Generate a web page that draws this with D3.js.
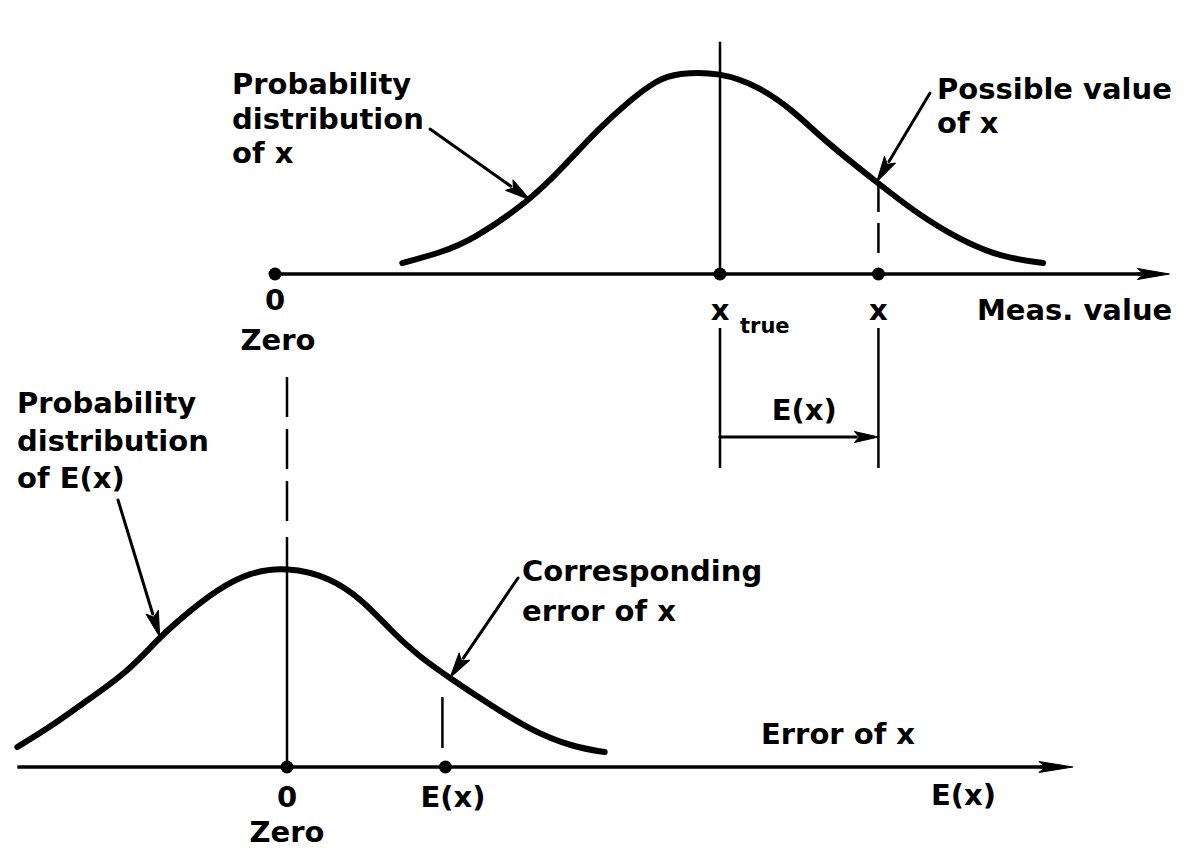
<!DOCTYPE html>
<html><head><meta charset="utf-8">
<script src="https://cdn.jsdelivr.net/npm/d3@7"></script>
<style>
html,body{margin:0;background:#fff}
svg{display:block}
text{font-family:"DejaVu Sans",sans-serif;font-weight:bold;fill:#000}
</style>
</head><body>
<svg id="c" width="1200" height="851"></svg>
<script>
// ---- data ----
// distribution of the measured value x (units of measured value, relative density)
const measCurveX = [1.43,1.85,2.22,2.87,3.24,3.62,3.99,4.29,4.52,5.0,5.45,5.82,6.2,6.76,7.21,7.7,8.15,8.63];
const measCurveP = [0.054,0.104,0.168,0.366,0.53,0.713,0.861,0.96,0.995,1.0,0.926,0.81,0.65,0.455,0.30,0.168,0.084,0.054];
// distribution of the error E(x)
const errCurveX = [-3.03,-2.66,-2.29,-1.80,-1.43,-1.12,-0.79,-0.42,0,0.48,0.85,1.16,1.49,1.83,2.25,2.73,3.21,3.57];
const errCurveP = [0.10,0.20,0.32,0.47,0.65,0.77,0.885,0.975,1.0,0.95,0.835,0.685,0.55,0.445,0.32,0.185,0.10,0.075];
const xTrue = 5.0;
const xMeas = 6.78;
const errValue = xMeas - xTrue;
const measTickValues = [0, xTrue, xMeas];
const measTickLabels = ["0", "x", "x"];
const errTickValues = [0, errValue];
const errTickLabels = ["0", "E(x)"];

// ---- scales ----
const xM = d3.scaleLinear().domain([0, 10]).range([275, 1165]);
const yM = d3.scaleLinear().domain([0, 1]).range([274, 72]);
const xE = d3.scaleLinear().domain([0, 10]).range([287, 1177]);
const yE = d3.scaleLinear().domain([0, 1]).range([767, 567]);

const svg = d3.select("#c");
const FS = 29;

function arrow(x1, y1, x2, y2, len, hw, sw) {
  const a = Math.atan2(y2 - y1, x2 - x1);
  const c = Math.cos(a), s = Math.sin(a);
  const bx = x2 - len * c, by = y2 - len * s;
  svg.append("line").attr("x1", x1).attr("y1", y1).attr("x2", bx + 2 * c).attr("y2", by + 2 * s)
    .attr("stroke", "#000").attr("stroke-width", sw).attr("stroke-linecap", "round");
  svg.append("path")
    .attr("d", `M${x2},${y2}L${bx - hw * s},${by + hw * c}L${bx + 0.2 * len * c},${by + 0.2 * len * s}L${bx + hw * s},${by - hw * c}Z`)
    .attr("fill", "#000").attr("stroke", "#000").attr("stroke-width", 1).attr("stroke-linejoin", "round");
}
function txt(x, y, t, anchor, size) {
  return svg.append("text").attr("x", x).attr("y", y).attr("text-anchor", anchor || "start")
    .attr("font-size", size || FS).text(t);
}

const lineM = d3.line().x(d => xM(d[0])).y(d => yM(d[1])).curve(d3.curveBasis);
const lineE = d3.line().x(d => xE(d[0])).y(d => yE(d[1])).curve(d3.curveBasis);

// ---- top: measured value ----
svg.append("line").attr("x1", xM(0)).attr("y1", yM(0)).attr("x2", xM(10.05) - 20).attr("y2", yM(0))
  .attr("stroke", "#000").attr("stroke-width", 3.5);
arrow(xM(9.7), yM(0), xM(10.05), yM(0), 32, 5.5, 3.5);

svg.append("path").datum(measCurveX.map((x, i) => [x, measCurveP[i]]))
  .attr("d", lineM).attr("fill", "none").attr("stroke", "#000").attr("stroke-width", 6).attr("stroke-linecap", "round");

svg.append("line").attr("x1", xM(xTrue)).attr("x2", xM(xTrue)).attr("y1", yM(1.15)).attr("y2", yM(0))
  .attr("stroke", "#000").attr("stroke-width", 2.5);
svg.append("line").attr("x1", xM(xMeas)).attr("x2", xM(xMeas)).attr("y1", yM(measCurveP[13])).attr("y2", yM(0.06))
  .attr("stroke", "#000").attr("stroke-width", 2.5).attr("stroke-dasharray", "30,11");

svg.selectAll(".dm").data(measTickValues).enter().append("circle")
  .attr("cx", d => xM(d)).attr("cy", yM(0)).attr("r", 6.5).attr("fill", "#000");

txt(xM(0), 310, measTickLabels[0], "middle");
txt(xM(0) + 3, 350, "Zero", "middle");
txt(xM(xTrue), 320, measTickLabels[1], "middle");
txt(xM(xTrue) + 20, 333, "true", "start", 21);
txt(xM(xMeas), 320, measTickLabels[2], "middle");
txt(977, 320, "Meas. value");

txt(232, 94, "Probability");
txt(232, 129, "distribution");
txt(232, 163, "of x");
arrow(430, 129, xM(measCurveX[3]), yM(measCurveP[3]), 26, 6.5, 3);

txt(937, 99, "Possible value");
txt(937, 133, "of x");
arrow(930, 93, xM(measCurveX[13]), yM(measCurveP[13]), 26, 6.5, 3);

// error bracket below top axis
[xTrue, xMeas].forEach(v => {
  svg.append("line").attr("x1", xM(v)).attr("x2", xM(v)).attr("y1", 328).attr("y2", 468)
    .attr("stroke", "#000").attr("stroke-width", 2.5);
});
arrow(xM(xTrue), 437, xM(xMeas), 437, 24, 5.5, 3);
txt((xM(xTrue) + xM(xMeas)) / 2 + 5, 420, "E(x)", "middle");

// ---- bottom: error ----
svg.append("line").attr("x1", xE(-3.03)).attr("y1", yE(0)).attr("x2", xE(8.83) - 20).attr("y2", yE(0))
  .attr("stroke", "#000").attr("stroke-width", 3.5);
arrow(xE(8.5), yE(0), xE(8.83), yE(0), 34, 5.5, 3.5);

svg.append("path").datum(errCurveX.map((x, i) => [x, errCurveP[i]]))
  .attr("d", lineE).attr("fill", "none").attr("stroke", "#000").attr("stroke-width", 6).attr("stroke-linecap", "round");

svg.append("line").attr("x1", xE(0)).attr("x2", xE(0)).attr("y1", yE(1.95)).attr("y2", yE(1.23))
  .attr("stroke", "#000").attr("stroke-width", 2.5).attr("stroke-dasharray", "40,12");
svg.append("line").attr("x1", xE(0)).attr("x2", xE(0)).attr("y1", yE(1.15)).attr("y2", yE(0))
  .attr("stroke", "#000").attr("stroke-width", 2.5);
svg.append("line").attr("x1", xE(errValue) - 3).attr("x2", xE(errValue) - 3).attr("y1", yE(0.35)).attr("y2", yE(0.095))
  .attr("stroke", "#000").attr("stroke-width", 2.5);

svg.selectAll(".de").data(errTickValues).enter().append("circle")
  .attr("cx", d => xE(d)).attr("cy", yE(0)).attr("r", 6.5).attr("fill", "#000");

txt(xE(0), 807, errTickLabels[0], "middle");
txt(xE(0), 842, "Zero", "middle");
txt(xE(errValue) - 25, 807, errTickLabels[1], "start");
txt(931, 805, "E(x)");
txt(761, 744, "Error of x");

txt(17, 413, "Probability");
txt(17, 451, "distribution");
txt(17, 488, "of E(x)");
arrow(118, 500, xE(errCurveX[4]), yE(errCurveP[4]), 26, 6.5, 3);

txt(522, 581, "Corresponding");
txt(522, 621, "error of x");
arrow(518, 578, xE(errCurveX[13]), yE(errCurveP[13]), 26, 6.5, 3);
</script>
</body></html>
